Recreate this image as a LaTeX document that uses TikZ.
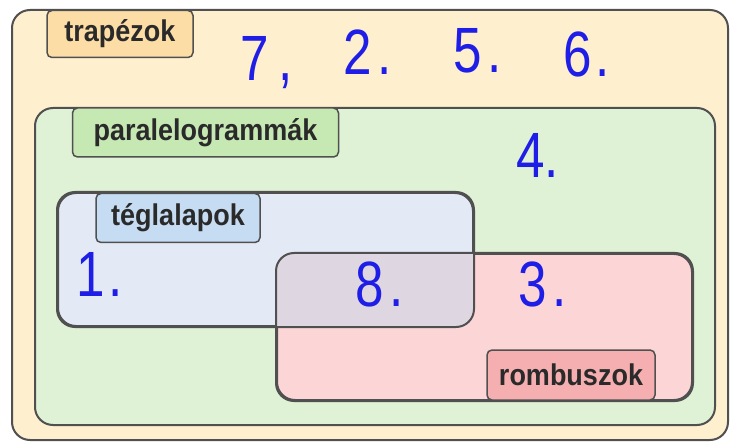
\documentclass[tikz,border=0pt]{standalone}
\usepackage{fontspec}
\setmainfont{Liberation Sans}
\newfontfamily\tagfont{Liberation Sans}[FakeStretch=0.9]
\newfontfamily\handfont{Liberation Sans}[FakeStretch=0.8]

\definecolor{edge}{HTML}{505050}
\definecolor{labeltext}{HTML}{2A2A2A}
\definecolor{outerfill}{HTML}{FEEFCF}
\definecolor{trapfill}{HTML}{FDDDA6}
\definecolor{paralfill}{HTML}{DFF2D6}
\definecolor{paraltag}{HTML}{C6E8B2}
\definecolor{tegfill}{HTML}{E3EAF6}
\definecolor{tegtag}{HTML}{C6DCF2}
\definecolor{rombfill}{HTML}{FCD6D6}
\definecolor{rombtag}{HTML}{F6AFB0}
\definecolor{bothfill}{HTML}{DED6E1}
\definecolor{ink}{HTML}{1E1EE6}

\begin{document}
\begin{tikzpicture}[x=1pt,y=-1pt,
  setbox/.style={draw=edge, line width=2pt, rounded corners=18pt, inner sep=0pt},
  tag/.style={draw=edge, line width=1.5pt, rounded corners=5pt, inner sep=0pt,
    font=\tagfont\bfseries\fontsize{30}{30}\selectfont, text=labeltext},
  num/.style={text=ink, font=\handfont\fontsize{64}{64}\selectfont,
    inner sep=0pt, anchor=base west}]
\useasboundingbox (0,0) rectangle (730,443);

% nested sets
\node[setbox, fill=outerfill, minimum width=716pt, minimum height=430pt]
  (trap) at (370,225) {};
\node[setbox, fill=paralfill, minimum width=680pt, minimum height=317pt]
  (paral) at (375,266.5) {};
\node[setbox, fill=tegfill, minimum width=415pt, minimum height=133pt]
  (teg) at (265.5,259.5) {};
\node[setbox, fill=rombfill, minimum width=415pt, minimum height=146pt]
  (romb) at (484.5,327) {};

% intersection of rectangles and rhombi
\begin{scope}
  \clip[rounded corners=18pt] (teg.north west) rectangle (teg.south east);
  \fill[bothfill, rounded corners=18pt] (romb.north west) rectangle (romb.south east);
\end{scope}
\draw[edge, line width=2pt, rounded corners=18pt] (teg.north west) rectangle (teg.south east);
\draw[edge, line width=2pt, rounded corners=18pt] (romb.north west) rectangle (romb.south east);

% set names
\node[tag, fill=trapfill, minimum width=146pt, minimum height=47pt]
  (traptag) at (120,34) {trapézok};
\node[tag, fill=paraltag, minimum width=266pt, minimum height=49pt]
  (paraltag) at (205.5,132.5) {paralelogrammák};
\node[tag, fill=tegtag, minimum width=164pt, minimum height=49pt]
  (tegtag) at (178,218) {téglalapok};
\node[tag, fill=rombtag, minimum width=168pt, minimum height=50pt]
  (rombtag) at (571,375) {rombuszok};

% handwritten answers
\node[num] (n7) at (240,81) {7\kern10pt,};
\node[num] (n2) at (343,75) {2\kern6pt.};
\node[num] (n5) at (453,73) {5\kern6pt.};
\node[num] (n6) at (563,77) {6\kern4pt.};
\node[num] (n4) at (516,178) {4.};
\node[num] (n1) at (76,297) {1\kern4pt.};
\node[num] (n8) at (355,306) {8\kern6pt.};
\node[num] (n3) at (518,306) {3\kern6pt.};
\end{tikzpicture}
\end{document}
